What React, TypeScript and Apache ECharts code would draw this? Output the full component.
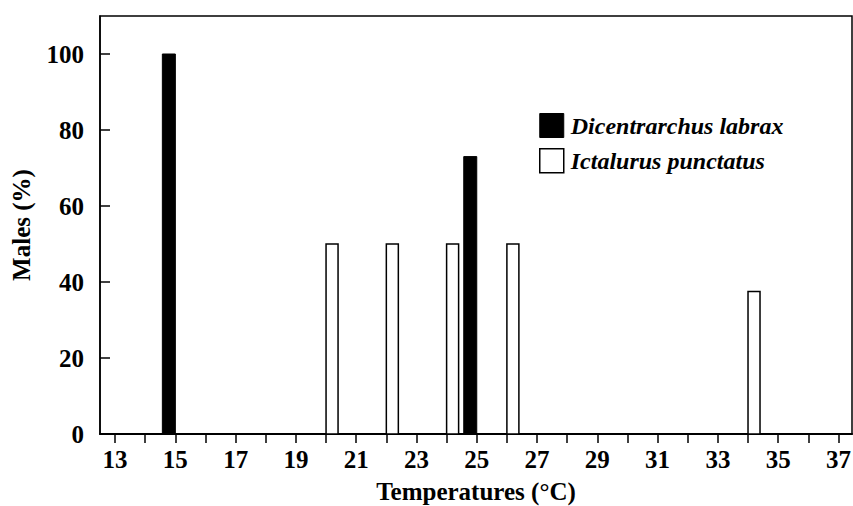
import React, { useEffect, useRef } from "react";
import * as echarts from "echarts";

const labraxTemps = [15, 25];
const labraxMales = [100, 73];
const punctatusTemps = [20, 22, 24, 26, 34];
const punctatusMales = [50, 50, 50, 50, 37.5];
const xTicks = [13, 14, 15, 16, 17, 18, 19, 20, 21, 22, 23, 24, 25, 26, 27, 28, 29, 30, 31, 32, 33, 34, 35, 36, 37];
const xLabels = [13, 15, 17, 19, 21, 23, 25, 27, 29, 31, 33, 35, 37];
const yTicks = [0, 20, 40, 60, 80, 100];

const FONT = "'Liberation Serif', 'Times New Roman', serif";

function makeRender(side: "left" | "right", barPx: number) {
  return (params: any, api: any) => {
    const t = api.value(0);
    const v = api.value(1);
    const top = api.coord([t, v]);
    const base = api.coord([t, 0]);
    const x = side === "left" ? base[0] - barPx : base[0];
    return {
      type: "rect",
      shape: { x, y: top[1], width: barPx, height: base[1] - top[1] },
      style: api.style(),
    };
  };
}

export default function App() {
  const ref = useRef<HTMLDivElement>(null);
  useEffect(() => {
    if (!ref.current) return;
    const chart = echarts.init(ref.current, undefined, { renderer: "svg" });
    chart.setOption({
      animation: false,
      backgroundColor: "#fff",
      textStyle: { fontFamily: FONT },
      grid: {
        left: 100,
        right: 1,
        top: 16,
        bottom: 72,
        outerBoundsMode: "none",
        containLabel: false,
        show: true,
        borderColor: "#000",
        borderWidth: 1.5,
      },
      legend: {
        orient: "vertical",
        left: 534,
        top: 108,
        itemWidth: 24,
        itemHeight: 24,
        itemGap: 10,
        textStyle: {
          fontFamily: FONT,
          fontStyle: "italic",
          fontWeight: "bold",
          fontSize: 24,
          color: "#000",
          padding: [0, 0, 0, 2],
        },
        data: [
          { name: "Dicentrarchus labrax", icon: "rect", itemStyle: { color: "#000", borderColor: "#000", borderWidth: 1 } },
          { name: "Ictalurus punctatus", icon: "rect", itemStyle: { color: "#fff", borderColor: "#000", borderWidth: 1.5 } },
        ],
      },
      xAxis: {
        type: "value",
        min: 12.5,
        max: 37.45,
        name: "Temperatures (°C)",
        nameLocation: "middle",
        nameGap: 45,
        nameTextStyle: { fontFamily: FONT, fontWeight: "bold", fontSize: 25, color: "#000" },
        splitLine: { show: false },
        axisLine: { show: true, onZero: false, lineStyle: { color: "#000", width: 2 } },
        axisTick: { show: true, inside: false, length: 9, customValues: xTicks, lineStyle: { color: "#000", width: 1.5 } },
        axisLabel: {
          customValues: xLabels,
          margin: 13,
          fontFamily: FONT,
          fontWeight: "bold",
          fontSize: 25,
          color: "#000",
        },
      },
      yAxis: {
        type: "value",
        min: 0,
        max: 110,
        name: "Males (%)",
        nameLocation: "middle",
        nameGap: 66,
        nameRotate: 90,
        nameTextStyle: { fontFamily: FONT, fontWeight: "bold", fontSize: 25, color: "#000" },
        splitLine: { show: false },
        axisLine: { show: true, lineStyle: { color: "#000", width: 1.5 } },
        axisTick: { show: true, inside: true, length: 10, customValues: yTicks, lineStyle: { color: "#000", width: 1.5 } },
        axisLabel: {
          customValues: yTicks,
          margin: 16,
          fontFamily: FONT,
          fontWeight: "bold",
          fontSize: 25,
          color: "#000",
        },
      },
      series: [
        {
          name: "Dicentrarchus labrax",
          type: "custom",
          renderItem: makeRender("left", 13),
          itemStyle: { color: "#000", borderColor: "#000", borderWidth: 1 },
          encode: { x: 0, y: 1 },
          data: labraxTemps.map((t, i) => [t, labraxMales[i]]),
          z: 3,
        },
        {
          name: "Ictalurus punctatus",
          type: "custom",
          renderItem: makeRender("right", 12),
          itemStyle: { color: "#fff", borderColor: "#000", borderWidth: 1.5 },
          encode: { x: 0, y: 1 },
          data: punctatusTemps.map((t, i) => [t, punctatusMales[i]]),
          z: 2,
        },
      ],
    });
    return () => chart.dispose();
  }, []);
  return <div ref={ref} style={{ width: 853, height: 506, position: "absolute", left: 0, top: 0 }} />;
}
